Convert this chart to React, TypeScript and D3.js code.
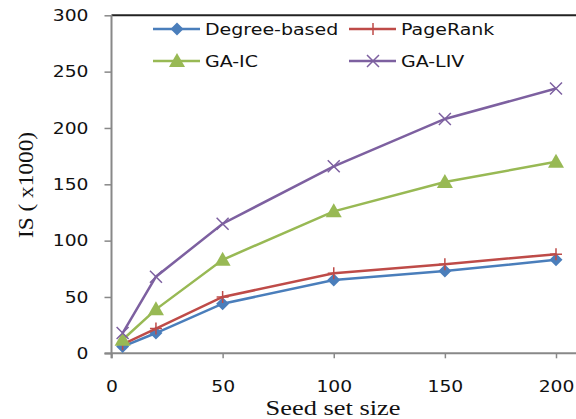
import * as d3 from "d3"
import { useEffect, useRef } from "react"

const SEED_SIZES = [5, 20, 50, 100, 150, 200]
const DEGREE = [6, 18, 44, 65, 73, 83]
const PAGERANK = [8, 22, 50, 71, 79, 88]
const GA_IC = [12, 39, 83, 126, 152, 170]
const GA_LIV = [18, 68, 115, 166, 208, 235]
const X_TICKS = [0, 50, 100, 150, 200]
const Y_TICKS = [0, 50, 100, 150, 200, 250, 300]

const SERIES = [
  { name: "Degree-based", values: DEGREE, color: "#4a7ebb", marker: "diamond" },
  { name: "PageRank", values: PAGERANK, color: "#be4b48", marker: "plus" },
  { name: "GA-IC", values: GA_IC, color: "#98b954", marker: "triangle" },
  { name: "GA-LIV", values: GA_LIV, color: "#7d60a0", marker: "cross" },
]

function drawMarker(g: any, kind: string, cx: number, cy: number, color: string) {
  if (kind === "diamond") {
    const s = 6.5
    g.append("path")
      .attr("d", `M${cx},${cy - s}L${cx + s},${cy}L${cx},${cy + s}L${cx - s},${cy}Z`)
      .attr("fill", color)
  } else if (kind === "triangle") {
    const s = 8
    g.append("path")
      .attr("d", `M${cx},${cy - s}L${cx + s},${cy + s * 0.75}L${cx - s},${cy + s * 0.75}Z`)
      .attr("fill", color)
  } else if (kind === "plus") {
    const s = 6
    g.append("path")
      .attr("d", `M${cx - s},${cy}L${cx + s},${cy}M${cx},${cy - s}L${cx},${cy + s}`)
      .attr("stroke", color)
      .attr("stroke-width", 1.5)
  } else {
    const s = 6
    g.append("path")
      .attr("d", `M${cx - s},${cy - s}L${cx + s},${cy + s}M${cx - s},${cy + s}L${cx + s},${cy - s}`)
      .attr("stroke", color)
      .attr("stroke-width", 1.5)
  }
}

// the source image is a bit wider than the fonts here, so stretch text
function stretch(sel: any, k: number) {
  sel.each(function (this: SVGTextElement) {
    const w = this.getComputedTextLength()
    d3.select(this).attr("textLength", w * k).attr("lengthAdjust", "spacingAndGlyphs")
  })
}

export default function App() {
  const ref = useRef<SVGSVGElement | null>(null)

  useEffect(() => {
    if (!ref.current) return
    const width = 576
    const margin = { top: 15.3, left: 111.5 }

    const svg = d3.select(ref.current)
    svg.selectAll("*").remove()

    const x = d3.scaleLinear().domain([0, 200]).range([margin.left, 556])
    const y = d3.scaleLinear().domain([0, 300]).range([353.3, margin.top])
    const sans = "'DejaVu Sans', Verdana, sans-serif"
    const serif = "'Liberation Serif', 'Times New Roman', serif"

    // top border
    svg.append("line")
      .attr("x1", margin.left).attr("x2", width)
      .attr("y1", y(300)).attr("y2", y(300))
      .attr("stroke", "#222").attr("stroke-width", 2)

    const xAxis = svg.append("g")
      .attr("transform", `translate(0,${y(0)})`)
      .call(d3.axisBottom(x).tickValues(X_TICKS).tickSize(5).tickPadding(22).tickFormat(d3.format("d")))
    xAxis.select(".domain").attr("d", `M${margin.left - 7},0H${width}`)
    const yAxis = svg.append("g")
      .attr("transform", `translate(${margin.left},0)`)
      .call(d3.axisLeft(y).tickValues(Y_TICKS).tickSize(7).tickPadding(16).tickFormat(d3.format("d")))
    yAxis.select(".domain").attr("d", `M0,${y(300)}V${y(0) + 5}`)

    for (const ax of [xAxis, yAxis]) {
      ax.select(".domain").attr("stroke", "#888").attr("stroke-width", 2)
      ax.selectAll(".tick line").attr("stroke", "#888").attr("stroke-width", 1.5)
      ax.selectAll("text")
        .attr("fill", "#111")
        .style("font-family", sans)
        .style("font-size", "16px")
      stretch(ax.selectAll("text"), 1.17)
    }

    const line = d3.line<number>()
      .x((_, i) => x(SEED_SIZES[i]))
      .y((v) => y(v))

    const plot = svg.append("g")
    for (const s of SERIES) {
      plot.append("path")
        .attr("d", line(s.values))
        .attr("fill", "none")
        .attr("stroke", s.color)
        .attr("stroke-width", 2.5)
      s.values.forEach((v, i) => drawMarker(plot, s.marker, x(SEED_SIZES[i]), y(v), s.color))
    }

    // legend
    const legend = svg.append("g")
    SERIES.forEach((s, i) => {
      const lx = i % 2 === 0 ? 153 : 349
      const ly = i < 2 ? 29 : 61
      legend.append("line")
        .attr("x1", lx).attr("x2", lx + 47)
        .attr("y1", ly).attr("y2", ly)
        .attr("stroke", s.color).attr("stroke-width", 2.5)
      drawMarker(legend, s.marker, lx + 24, ly, s.color)
      legend.append("text")
        .attr("x", lx + 52).attr("y", ly)
        .attr("dy", "0.36em")
        .style("font-family", sans)
        .style("font-size", "16.5px")
        .attr("fill", "#111")
        .text(s.name)
    })
    stretch(legend.selectAll("text"), 1.15)

    const xt = svg.append("text")
      .attr("x", 333).attr("y", 415)
      .attr("text-anchor", "middle")
      .style("font-family", serif)
      .style("font-size", "22px")
      .attr("fill", "#111")
      .text("Seed set size")
    stretch(xt, 1.2)

    const yt = svg.append("text")
      .attr("transform", "translate(33,185) rotate(-90)")
      .attr("text-anchor", "middle")
      .style("font-family", serif)
      .style("font-size", "22px")
      .attr("fill", "#111")
      .text("IS ( x1000)")
    stretch(yt, 1.06)
  }, [])

  return (
    <svg
      ref={ref}
      width={576}
      height={419}
      style={{ position: "absolute", left: 0, top: 0, background: "#fff" }}
    />
  )
}
